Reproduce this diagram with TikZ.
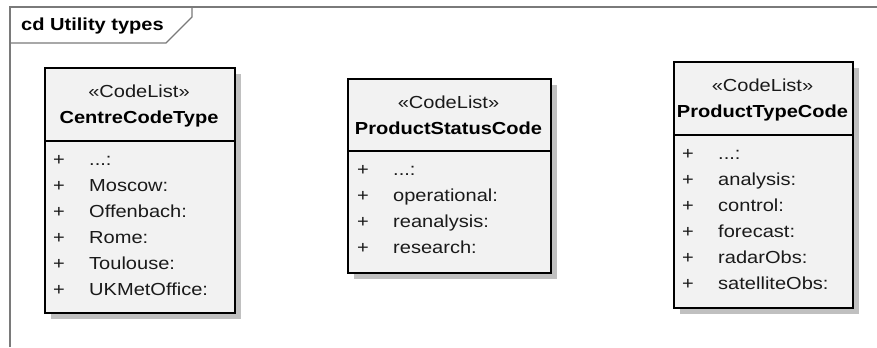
\documentclass[tikz,border=0pt]{standalone}
\usepackage{fontspec}
\setmainfont{Liberation Sans}[FakeStretch=1.15]
\usetikzlibrary{shadows}
\definecolor{boxfill}{HTML}{F2F2F2}
\definecolor{shadowgray}{HTML}{C0C0C0}
\definecolor{framegray}{HTML}{7A7A7A}
\definecolor{txtgray}{HTML}{1A1A1A}
\newcommand{\myellipsis}{...:}
\begin{document}
\begin{tikzpicture}[x=1bp,y=-1bp,
  umlbox/.style={draw=black, line width=1.6bp, fill=boxfill, anchor=north west, inner sep=0pt,
    general shadow={fill=shadowgray, shadow xshift=6bp, shadow yshift=-6bp}},
  divider/.style={draw=black, line width=1.6bp},
  framel/.style={draw=framegray, line width=1.4bp},
  txt/.style={inner sep=0pt, text height=13bp, text depth=4bp, text=txtgray, font=\fontsize{17.5}{20}\selectfont},
  ttl/.style={inner sep=0pt, text height=13bp, text depth=4bp, font=\fontsize{17.5}{20}\selectfont\bfseries},
  plus/.style={txt, anchor=center},
  attr/.style={txt, anchor=west},
]
\useasboundingbox (0,0) rectangle (877,347);
\fill[white] (0,0) rectangle (877,347);

% frame
\draw[framel] (10,347) -- (10,7) -- (877,7);
\draw[framel] (10,43) -- (166,43) -- (192,17) -- (192,7);
\node[ttl, anchor=west] (frametitle) at (21,26) {cd Utility types};

% box 1
\node[umlbox, minimum width=190bp, minimum height=245bp] (b1) at (44,67) {};
\draw[divider] (44,141) -- (234,141);
\node[txt] (b1s) at (139,93) {«CodeList»};
\node[ttl] (b1n) at (139,119) {CentreCodeType};
\foreach \t [count=\i from 0] in {\myellipsis,Moscow:,Offenbach:,Rome:,Toulouse:,UKMetOffice:}{
  \node[plus] (b1p\i) at (59,160.5+26*\i) {+};
  \node[attr] (b1a\i) at (89,160.5+26*\i) {\t};
}

% box 2
\node[umlbox, minimum width=203bp, minimum height=194bp] (b2) at (347,78) {};
\draw[divider] (347,151) -- (550,151);
\node[txt] (b2s) at (448.5,103.5) {«CodeList»};
\node[ttl] (b2n) at (448.5,129.5) {ProductStatusCode};
\foreach \t [count=\i from 0] in {\myellipsis,operational:,reanalysis:,research:}{
  \node[plus] (b2p\i) at (363,170.5+26*\i) {+};
  \node[attr] (b2a\i) at (393,170.5+26*\i) {\t};
}

% box 3
\node[umlbox, minimum width=179bp, minimum height=246bp] (b3) at (673,61) {};
\draw[divider] (673,135) -- (852,135);
\node[txt] (b3s) at (762.5,86.5) {«CodeList»};
\node[ttl] (b3n) at (762.5,112.5) {ProductTypeCode};
\foreach \t [count=\i from 0] in {\myellipsis,analysis:,control:,forecast:,radarObs:,satelliteObs:}{
  \node[plus] (b3p\i) at (688,154.5+26*\i) {+};
  \node[attr] (b3a\i) at (718,154.5+26*\i) {\t};
}
\end{tikzpicture}
\end{document}
